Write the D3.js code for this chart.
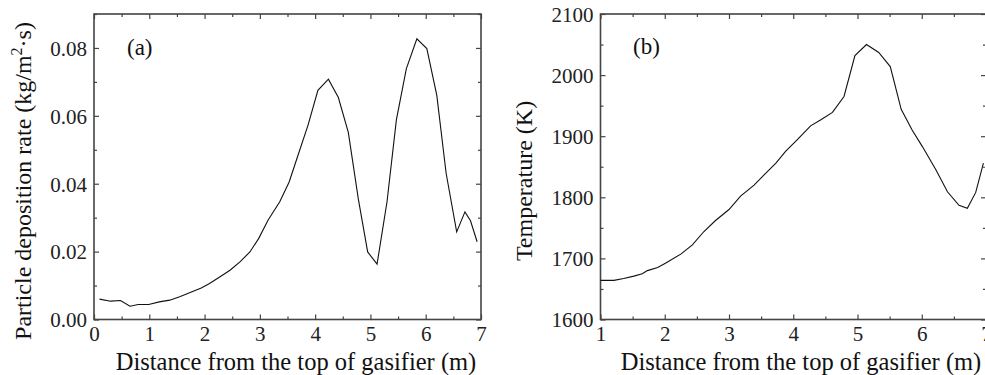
<!DOCTYPE html>
<html>
<head>
<meta charset="utf-8">
<script src="https://cdn.jsdelivr.net/npm/d3@7"></script>
<style>
  body { margin: 0; background: #fff; }
  svg { display: block; font-family: "Liberation Serif", "Times New Roman", serif; }
  .axis path, .axis line { stroke: #444; }
  .axis text { fill: #222; font-size: 21px; font-family: "Liberation Serif", serif; }
</style>
</head>
<body>
<div id="chart"></div>
<script>
// (a) particle deposition rate vs distance
const distA = [0.10, 0.30, 0.48, 0.65, 0.80, 0.99, 1.18, 1.37, 1.55, 1.75, 1.94, 2.09, 2.28, 2.46, 2.64, 2.82, 2.98, 3.15, 3.36, 3.53, 3.69, 3.87, 4.05, 4.24, 4.42, 4.60, 4.78, 4.95, 5.12, 5.30, 5.47, 5.65, 5.84, 6.02, 6.20, 6.37, 6.56, 6.71, 6.81, 6.93];
const rateA = [0.0060, 0.0054, 0.0056, 0.0039, 0.0044, 0.0044, 0.0052, 0.0057, 0.0067, 0.0080, 0.0093, 0.0106, 0.0126, 0.0145, 0.0170, 0.0199, 0.0239, 0.0293, 0.0347, 0.0405, 0.0484, 0.0572, 0.0675, 0.0708, 0.0654, 0.0551, 0.0356, 0.0199, 0.0163, 0.0347, 0.0589, 0.0739, 0.0827, 0.0798, 0.0661, 0.0430, 0.0258, 0.0317, 0.0291, 0.0229];

// (b) temperature vs distance
const distB = [1.00, 1.21, 1.36, 1.52, 1.65, 1.73, 1.89, 2.01, 2.25, 2.43, 2.61, 2.79, 3.00, 3.18, 3.39, 3.55, 3.73, 3.88, 4.06, 4.27, 4.43, 4.61, 4.79, 4.96, 5.14, 5.33, 5.51, 5.68, 5.85, 6.01, 6.22, 6.40, 6.58, 6.71, 6.84, 6.96];
const tempB = [1664, 1664, 1667, 1671, 1675, 1680, 1685, 1692, 1707, 1722, 1744, 1762, 1780, 1802, 1820, 1837, 1856, 1875, 1894, 1917, 1927, 1939, 1965, 2032, 2050, 2037, 2014, 1944, 1910, 1883, 1845, 1809, 1787, 1782, 1808, 1856];

const ticksXA = [0, 1, 2, 3, 4, 5, 6, 7];
const ticksYA = [0, 0.02, 0.04, 0.06, 0.08];
const ticksXB = [1, 2, 3, 4, 5, 6, 7];
const ticksYB = [1600, 1700, 1800, 1900, 2000, 2100];

const W = 985, H = 375;
const svg = d3.select("#chart").append("svg").attr("width", W).attr("height", H);

function panel(opt) {
  const x = d3.scaleLinear().domain(opt.xDomain).range(opt.xRange);
  const y = d3.scaleLinear().domain(opt.yDomain).range(opt.yRange);
  const g = svg.append("g");
  const [x0, x1] = opt.xRange, [y0, y1] = opt.yRange;

  // minor ticks
  const minor = (ax, vals, tr) => g.append("g").attr("class", "axis").attr("transform", tr)
    .call(ax.tickValues(vals).tickSize(-3).tickFormat(""))
    .call(s => s.select(".domain").remove())
    .call(s => s.selectAll("line").attr("stroke-width", 1.2));

  minor(d3.axisBottom(x), opt.minorX, `translate(0,${y0})`);
  minor(d3.axisTop(x), opt.minorX, `translate(0,${y1})`);
  minor(d3.axisLeft(y), opt.minorY, `translate(${x0},0)`);
  minor(d3.axisRight(y), opt.minorY, `translate(${x1},0)`);

  // major ticks with labels on bottom/left
  g.append("g").attr("class", "axis").attr("transform", `translate(0,${y0})`)
    .call(d3.axisBottom(x).tickValues(opt.ticksX).tickSize(-5).tickPadding(7).tickFormat(d3.format("d")))
    .call(s => s.select(".domain").remove())
    .call(s => s.selectAll("line").attr("stroke-width", 1.2));
  g.append("g").attr("class", "axis").attr("transform", `translate(${x0},0)`)
    .call(d3.axisLeft(y).tickValues(opt.ticksY).tickSize(-5).tickPadding(7).tickFormat(opt.yFormat))
    .call(s => s.select(".domain").remove())
    .call(s => s.selectAll("line").attr("stroke-width", 1.2))
    .call(s => s.selectAll("text").attr("dy", "0.35em"));
  g.append("g").attr("class", "axis").attr("transform", `translate(0,${y1})`)
    .call(d3.axisTop(x).tickValues(opt.ticksX).tickSize(-5).tickFormat(""))
    .call(s => s.select(".domain").remove())
    .call(s => s.selectAll("line").attr("stroke-width", 1.2));
  g.append("g").attr("class", "axis").attr("transform", `translate(${x1},0)`)
    .call(d3.axisRight(y).tickValues(opt.ticksY).tickSize(-5).tickFormat(""))
    .call(s => s.select(".domain").remove())
    .call(s => s.selectAll("line").attr("stroke-width", 1.2));

  // frame
  g.append("rect")
    .attr("x", x0).attr("y", y1)
    .attr("width", x1 - x0).attr("height", y0 - y1)
    .attr("fill", "none").attr("stroke", "#444").attr("stroke-width", 1.6);

  // data line
  const line = d3.line().x(d => x(d[0])).y(d => y(d[1]));
  g.append("path")
    .datum(d3.zip(opt.xs, opt.ys))
    .attr("d", line)
    .attr("fill", "none")
    .attr("stroke", "#111")
    .attr("stroke-width", 1.1);

  // panel tag
  g.append("text")
    .attr("x", opt.tagX).attr("y", opt.tagY)
    .attr("font-size", 23).attr("fill", "#111")
    .text(opt.tag);

  // x title
  g.append("text")
    .attr("x", opt.xTitleX).attr("y", 370)
    .attr("text-anchor", "middle")
    .attr("font-size", 24.5).attr("fill", "#111")
    .text("Distance from the top of gasifier (m)");

  return g;
}

const gA = panel({
  xDomain: [0, 7], xRange: [94, 481],
  yDomain: [0, 0.09], yRange: [319.5, 14],
  ticksX: ticksXA, ticksY: ticksYA,
  minorX: d3.range(0.5, 7, 1), minorY: [0.01, 0.03, 0.05, 0.07, 0.09],
  yFormat: d3.format(".2f"),
  xs: distA, ys: rateA,
  tag: "(a)", tagX: 127, tagY: 55,
  xTitleX: 296
});

const yTitleA = gA.append("text")
  .attr("transform", "translate(31,181) rotate(-90)")
  .attr("text-anchor", "middle")
  .attr("font-size", 24).attr("fill", "#111");
yTitleA.append("tspan").text("Particle deposition rate (kg/m");
yTitleA.append("tspan").attr("font-size", 16).attr("dy", -9).text("2");
yTitleA.append("tspan").attr("dy", 9).text("·s)");

const gB = panel({
  xDomain: [1, 7], xRange: [600.5, 986],
  yDomain: [1600, 2100], yRange: [319.5, 14],
  ticksX: ticksXB, ticksY: ticksYB,
  minorX: d3.range(1.5, 7, 1), minorY: [1650, 1750, 1850, 1950, 2050],
  yFormat: d3.format("d"),
  xs: distB, ys: tempB,
  tag: "(b)", tagX: 633, tagY: 54,
  xTitleX: 801
});

gB.append("text")
  .attr("transform", "translate(532,181) rotate(-90)")
  .attr("text-anchor", "middle")
  .attr("font-size", 24).attr("fill", "#111")
  .text("Temperature (K)");
</script>
</body>
</html>
